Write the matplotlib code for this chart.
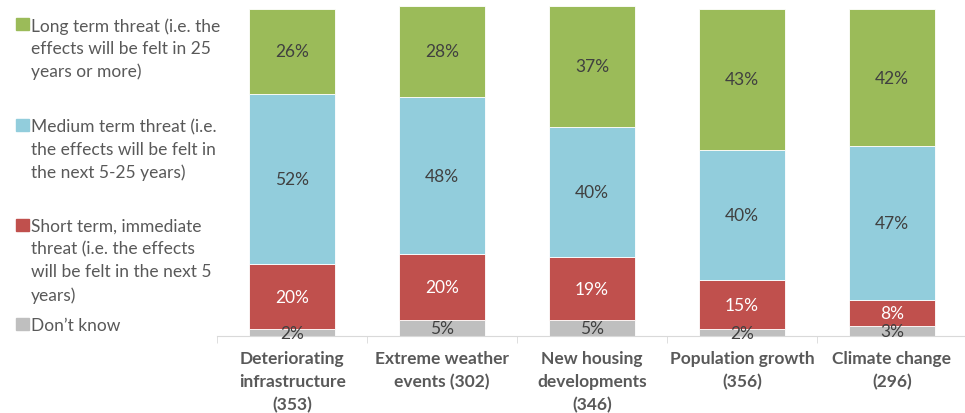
import numpy as np
import matplotlib.pyplot as plt
from matplotlib.patches import Rectangle

# Daten
categories = ["Deteriorating\ninfrastructure\n(353)", "Extreme weather\nevents (302)",
              "New housing\ndevelopments\n(346)", "Population growth\n(356)",
              "Climate change\n(296)"]
dont_know = [2, 5, 5, 2, 3]
short_term = [20, 20, 19, 15, 8]
medium_term = [52, 48, 40, 40, 47]
long_term = [26, 28, 37, 43, 42]

series_names = ["Long term threat (i.e. the\neffects will be felt in 25\nyears or more)",
                "Medium term threat (i.e.\nthe effects will be felt in\nthe next 5-25 years)",
                "Short term, immediate\nthreat (i.e. the effects\nwill be felt in the next 5\nyears)",
                "Don\u2019t know"]

c_green = "#9BBB59"
c_blue = "#92CDDC"
c_red = "#C0504D"
c_gray = "#BFBFBF"
c_text = "#595959"

plt.rcParams['font.family'] = ['Lato', 'DejaVu Sans']
fs = 12.5

fig = plt.figure(figsize=(9.65, 4.14), dpi=100)
ax = fig.add_axes([0.225, 0.186, 0.777, 0.814])

x = np.arange(len(categories))
w = 0.575

# Gestapelte Balken von unten nach oben
stack = [(dont_know, c_gray, "#404040"),
         (short_term, c_red, "white"),
         (medium_term, c_blue, "#404040"),
         (long_term, c_green, "#404040")]
bottom = np.zeros(len(x))
for vals, col, tcol in stack:
    vals = np.array(vals, dtype=float)
    ax.bar(x, vals, w, bottom=bottom, color=col, edgecolor="white", linewidth=0.6)
    for xi, b, v in zip(x, bottom, vals):
        ax.text(xi, b + v / 2, f"{v:.0f}%", ha="center", va="center",
                fontsize=fs, color=tcol)
    bottom += vals

ax.set_xlim(-0.5, len(x) - 0.5)
ax.set_ylim(0, 103)
ax.set_yticks([])
for s in ["top", "right", "left"]:
    ax.spines[s].set_visible(False)
ax.spines["bottom"].set_color("#D9D9D9")

# Kategorien und Trennstriche
ax.set_xticks(x)
ax.set_xticklabels(categories, fontsize=fs, fontweight="bold", color=c_text,
                   linespacing=1.55)
ax.tick_params(axis="x", which="major", length=0, pad=10)
ax.set_xticks(np.arange(-0.5, len(x)), minor=True)
ax.tick_params(axis="x", which="minor", length=5, color="#D9D9D9")

# Legende links
leg_cols = [c_green, c_blue, c_red, c_gray]
leg_y = [25, 126, 226, 325]
for name, col, yp in zip(series_names, leg_cols, leg_y):
    yf = 1 - yp / 414
    fig.patches.append(Rectangle((16 / 965, yf - 6 / 414), 13 / 965, 12 / 414,
                                 transform=fig.transFigure, color=col))
    fig.text(31 / 965, yf + 7 / 414, name, ha="left", va="top", fontsize=fs,
             color=c_text, linespacing=1.5)

fig.savefig("out.png", dpi=100)
